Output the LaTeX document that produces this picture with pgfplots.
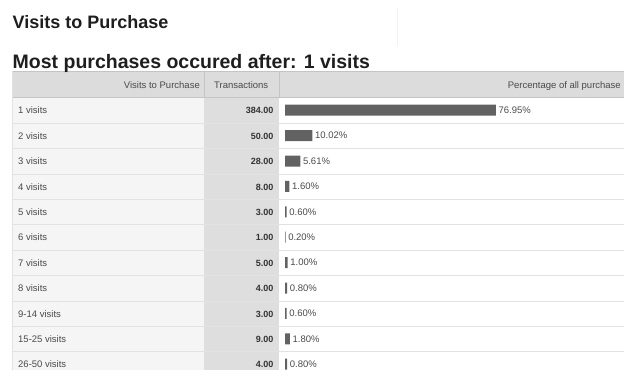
\documentclass[border=0pt]{standalone}
\usepackage{pgfplots}
\pgfplotsset{compat=1.18}
\usepackage{pgfplotstable}
\usepackage{fontspec}
\setmainfont{Liberation Sans}

\definecolor{hdrfill}{HTML}{DCDCDC}
\definecolor{hdrline}{HTML}{C4C4C4}
\definecolor{leftcol}{HTML}{F5F5F5}
\definecolor{trcol}{HTML}{DEDEDE}
\definecolor{rowline}{HTML}{E2E2E2}
\definecolor{barc}{HTML}{626262}
\definecolor{txt}{HTML}{4A4A4A}
\definecolor{numc}{HTML}{333333}
\definecolor{titlec}{HTML}{1E1E1E}

% row, label, transactions, share of all purchases (%)
\pgfplotstableread[col sep=comma]{
row,label,trans,pct
1,1 visits,384,76.95
2,2 visits,50,10.02
3,3 visits,28,5.61
4,4 visits,8,1.60
5,5 visits,3,0.60
6,6 visits,1,0.20
7,7 visits,5,1.00
8,8 visits,4,0.80
9,9-14 visits,3,0.60
10,15-25 visits,9,1.80
11,26-50 visits,4,0.80
}\visits

\begin{document}
\begin{tikzpicture}
\useasboundingbox (0,0) rectangle (624pt,370pt);

% table frame, x and y in pixels
\begin{axis}[
    width=624pt, height=370pt, scale only axis, hide axis,
    xmin=0, xmax=624, ymin=0, ymax=370, y dir=reverse,
    clip=false,
]
    \fill[leftcol] (axis cs:12,97.5) rectangle (axis cs:204,370);
    \fill[trcol] (axis cs:204,97.5) rectangle (axis cs:279,370);
    \fill[hdrfill] (axis cs:12,71) rectangle (axis cs:624,97.5);
    \draw[hdrline] (axis cs:12,71) -- (axis cs:624,71);
    \draw[hdrline,line width=1pt] (axis cs:12,97.5) -- (axis cs:624,97.5);
    \draw[hdrline] (axis cs:204,71) -- (axis cs:204,97.5);
    \draw[hdrline] (axis cs:279,71) -- (axis cs:279,97.5);
    \draw[rowline] (axis cs:12,71) -- (axis cs:12,370);
    \pgfplotsinvokeforeach{1,...,10}{
        \draw[rowline] (axis cs:12,{97.5+25.4*#1}) -- (axis cs:624,{97.5+25.4*#1});
    }
    \draw[black!5] (axis cs:397,8) -- (axis cs:397,46);

    \node[anchor=base west, inner sep=0pt, text=titlec,
        font=\bfseries\fontsize{18}{20}\selectfont] at (axis cs:12.5,28.3) {Visits to Purchase};
    \node[anchor=base west, inner sep=0pt, text=titlec,
        font=\bfseries\fontsize{19.5}{22}\selectfont] at (axis cs:12.5,68) {Most purchases occured after: 1 visits};

    \node[anchor=base east, inner sep=0pt, text=txt, font=\fontsize{9.5}{11}\selectfont]
        at (axis cs:200,88.5) {Visits to Purchase};
    \node[anchor=base west, inner sep=0pt, text=txt, font=\fontsize{9.5}{11}\selectfont]
        at (axis cs:214,88.5) {Transactions};
    \node[anchor=base east, inner sep=0pt, text=txt, font=\fontsize{9.5}{11}\selectfont]
        at (axis cs:621,88.5) {Percentage of all purchase};

    % row labels
    \addplot[draw=none, mark=none, forget plot,
        point meta=explicit symbolic, nodes near coords,
        every node near coord/.append style={anchor=base west, inner sep=0pt,
            text=txt, font=\fontsize{9.5}{11}\selectfont}]
        table[x expr=18, y expr=88.4+25.4*\thisrow{row}, meta=label] {\visits};

    % transactions
    \addplot[draw=none, mark=none, forget plot,
        point meta=explicit,
        nodes near coords={\pgfmathprintnumber[fixed,fixed zerofill,precision=2,assume math mode=true]{\pgfplotspointmeta}},
        every node near coord/.append style={anchor=base east, inner sep=0pt,
            text=numc, font=\bfseries\fontsize{9}{10}\selectfont}]
        table[x expr=273.5, y expr=88.4+25.4*\thisrow{row}, meta=trans] {\visits};
\end{axis}

% bars, x in percent, zero at pixel 285
\begin{axis}[
    width=624pt, height=370pt, scale only axis, hide axis,
    xmin=-104.01, xmax=123.72, ymin=0, ymax=370, y dir=reverse,
    clip=false,
]
    \addplot[xbar, bar width=11pt, fill=barc, draw=none,
        point meta=x,
        nodes near coords={\pgfmathprintnumber[fixed,fixed zerofill,precision=2,assume math mode=true]{\pgfplotspointmeta}\%},
        every node near coord/.append style={anchor=west, inner sep=0pt, xshift=2.5pt,
            text=txt, font=\fontsize{9.5}{11}\selectfont}]
        table[x=pct, y expr=84.8+25.4*\thisrow{row}] {\visits};
\end{axis}
\end{tikzpicture}
\end{document}
